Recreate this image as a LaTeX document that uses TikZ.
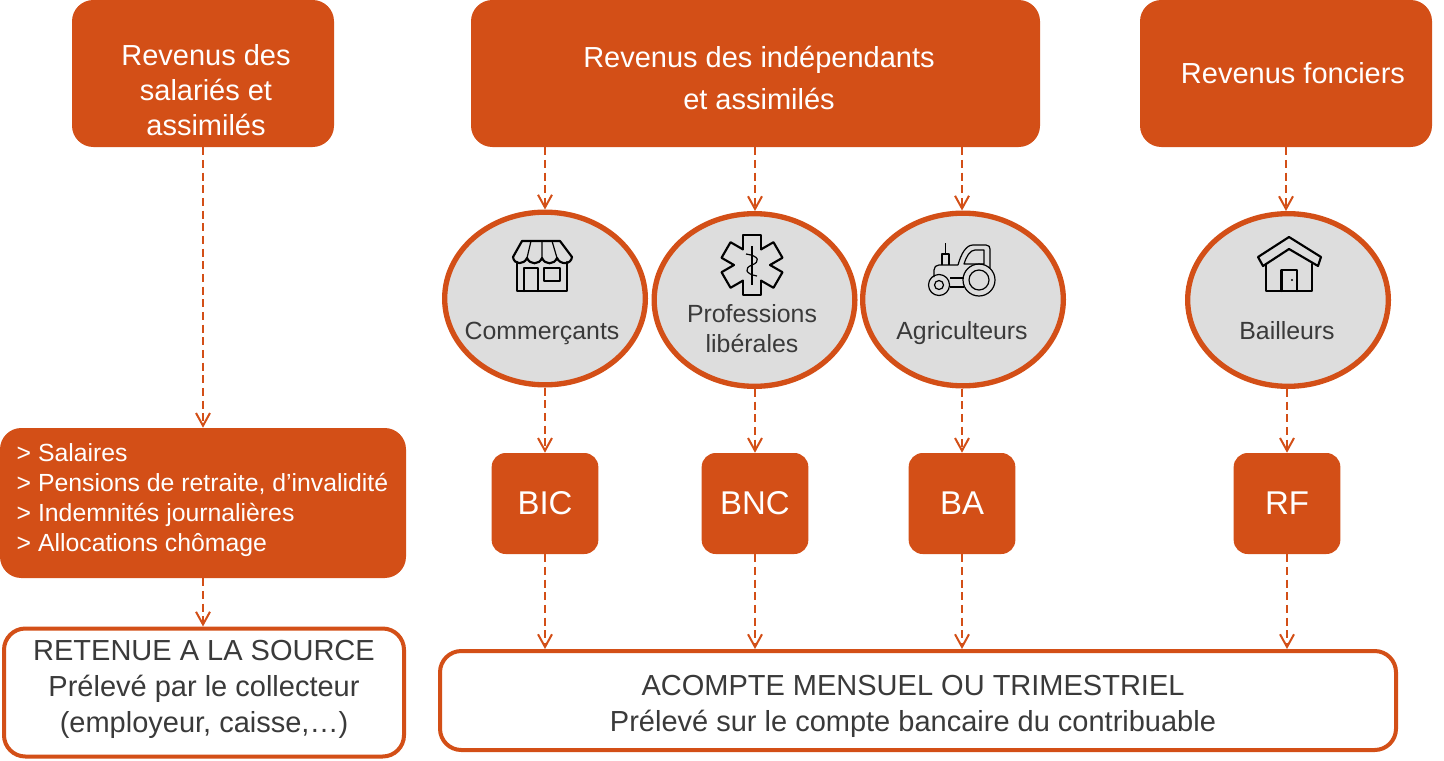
\documentclass[tikz,border=0pt]{standalone}
\usepackage{fontspec}
\setmainfont{Liberation Sans}
\usetikzlibrary{arrows.meta,shapes.geometric}
\definecolor{rust}{HTML}{D34F17}
\definecolor{oval}{HTML}{DDDDDD}
\definecolor{ink}{HTML}{3A3A3A}
\tikzset{
  topbox/.style={fill=rust,rounded corners=16pt,minimum height=110.25pt},
  codebox/.style={fill=rust,rounded corners=10.5pt,minimum width=80pt,minimum height=75.75pt,
    text=white,font=\fontsize{24.7}{28}\selectfont},
  whitebox/.style={draw=rust,line width=3pt,fill=white,rounded corners=16pt},
  oval/.style={ellipse,draw=rust,line width=4pt,fill=oval,minimum width=150.5pt,minimum height=129.5pt},
  toptxt/.style={text=white,align=center,font=\fontsize{21.75}{26.25}\selectfont},
  ovaltxt/.style={text=ink,align=center,font=\fontsize{18.65}{22.5}\selectfont},
  whitetxt/.style={text=ink,align=center,font=\fontsize{21.75}{27}\selectfont},
  flow/.style={draw=rust,line width=1.5pt,dash pattern=on 6pt off 3.5pt,
    -{Straight Barb[length=9.5pt,width=10.5pt,line width=1.5pt]}},
  icon/.style={black,line width=1.6pt,line join=round,line cap=round},
  thinicon/.style={black,line width=0.9pt,line join=round}
}
\begin{document}
\begin{tikzpicture}[x=0.75pt,y=-0.75pt]
\useasboundingbox (0,0) rectangle (1444,760);
% top row
\node[topbox,minimum width=196.5pt] (salaries) at (203,73.5) {};
\node[topbox,minimum width=426.75pt] (indep) at (755.5,73.5) {};
\node[topbox,minimum width=219pt] (fonciers) at (1286,73.5) {};
\node[toptxt] (salariestxt) at (206,90) {Revenus des\\salariés et\\assimilés};
\node[toptxt,font=\fontsize{21.75}{31.5}\selectfont] (indeptxt) at (759,78) {Revenus des indépendants\\et assimilés};
\node[toptxt] (fonciertxt) at (1293,73) {Revenus fonciers};
% ovals
\node[oval] (comm) at (545,298.5) {};
\node[oval] (prof) at (754.5,300) {};
\node[oval] (agri) at (963,299.5) {};
\node[oval] (bail) at (1288,300) {};
\node[ovaltxt] (commtxt) at (542,333) {Commerçants};
\node[ovaltxt] (proftxt) at (752,329) {Professions\\libérales};
\node[ovaltxt] (agritxt) at (962,333) {Agriculteurs};
\node[ovaltxt] (bailtxt) at (1287,331) {Bailleurs};
% code boxes
\node[codebox] (bic) at (545,503.5) {BIC};
\node[codebox] (bnc) at (755,503.5) {BNC};
\node[codebox] (ba) at (962,503.5) {BA};
\node[codebox] (rf) at (1287,503.5) {RF};
% left list
\node[topbox,minimum width=304.5pt,minimum height=112.5pt] (liste) at (203,503) {};
\node[toptxt,align=left,anchor=west,font=\fontsize{18.6}{22.5}\selectfont] (listetxt) at (12,500)
  {> Salaires\\> Pensions de retraite, d’invalidité\\> Indemnités journalières\\> Allocations chômage};
% bottom boxes
\node[whitebox,minimum width=300pt,minimum height=96pt] (retenue) at (204,692.5) {};
\node[whitebox,minimum width=717pt,minimum height=74.25pt] (acompte) at (918,700.5) {};
\node[whitetxt] (retenuetxt) at (204,689) {RETENUE A LA SOURCE\\Prélevé par le collecteur\\(employeur, caisse,…)};
\node[whitetxt] (acomptetxt) at (913,706.5) {ACOMPTE MENSUEL OU TRIMESTRIEL\\Prélevé sur le compte bancaire du contribuable};
% arrows
\draw[flow] (salaries.south) -- (liste.north);
\draw[flow] (liste.south) -- (liste.south |- retenue.north);
\foreach \v/\c in {comm/bic,prof/bnc,agri/ba} {
  \draw[flow] (\c.north |- indep.south) -- (\c.north |- \v.north);
  \draw[flow] (\c.north |- \v.south) -- (\c.north);
  \draw[flow] (\c.south) -- (\c.south |- acompte.north);
}
\draw[flow] (fonciers.south) -- (fonciers.south |- bail.north);
\draw[flow] (rf.north |- bail.south) -- (rf.north);
\draw[flow] (rf.south) -- (rf.south |- acompte.north);
% shop
\draw[icon] (517,262) -- (517,291) -- (567,291) -- (567,262);
\draw[icon] (522,241) -- (560,241) -- (572,257) .. controls (571,265) and (560,265) .. (557,258)
  .. controls (554,265) and (545,265) .. (542,258) .. controls (539,265) and (530,265) .. (527,258)
  .. controls (524,265) and (514,265) .. (513,257) -- cycle;
\draw[icon] (524,291) -- (524,268) -- (538,268) -- (538,291);
\draw[icon] (544,268) rectangle (560,281);
\draw[thinicon] (531,241) -- (527,258) (542,241) -- (542,258) (552,241) -- (557,258);
% star
\foreach \a in {0,60,...,300} {
  \draw[icon,shift={(752,265)},rotate=\a] (-9,-15.6) -- (-9,-30) -- (9,-30) -- (9,-15.6);
}
\draw[thinicon] (752,246) -- (752,285);
\draw[thinicon] (746,254) .. controls (760,256) and (760,262) .. (752,265)
  .. controls (744,268) and (745,274) .. (757,276);
% tractor
\draw[thinicon,fill=oval] (934,277) -- (934,270) .. controls (934,267) and (936,265) .. (939,265) -- (958,265);
\draw[thinicon] (958,265) .. controls (961,254) and (966,245) .. (973,245) -- (986,245)
  .. controls (989,245) and (990,247) .. (990,249) -- (990,268);
\draw[thinicon] (964,264) .. controls (966,257) and (970,250) .. (975,250) -- (984,250) -- (984,264) -- cycle;
\draw[thinicon] (942,265) -- (942,254) -- (949,254) -- (949,265);
\draw[thinicon] (945.5,254) -- (945.5,243);
\draw[thinicon] (950,278) -- (964,278) (950,287) -- (964,287);
\draw[thinicon] (979,280) circle (16) circle (10);
\draw[thinicon] (939,285) circle (10.5) circle (4.5);
% house
\draw[icon] (1289,237) -- (1321,257) -- (1318,266) -- (1289,249) -- (1263,266) -- (1258,257) -- cycle;
\draw[icon] (1266,264) -- (1266,291) -- (1312,291) -- (1312,264);
\draw[icon] (1281.5,291) -- (1281.5,270) -- (1297,270) -- (1297,291);
\fill (1292,280) circle (1.2);
\end{tikzpicture}
\end{document}
